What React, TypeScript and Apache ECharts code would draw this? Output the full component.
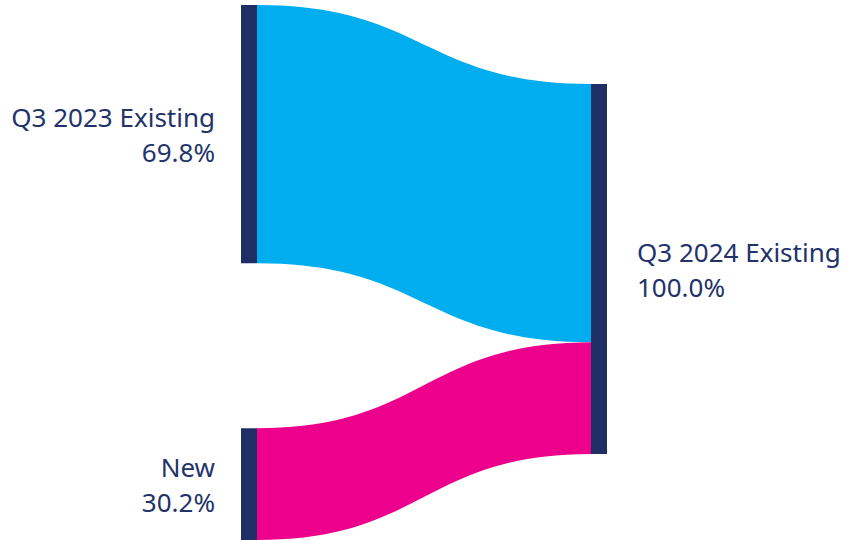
import React, { useEffect, useRef } from "react";
import * as echarts from "echarts";

const nodeNames = ["Q3 2023 Existing", "New", "Q3 2024 Existing"];
const nodeShares = ["69.8%", "30.2%", "100.0%"];
const linkSources = ["Q3 2023 Existing", "New"];
const linkTargets = ["Q3 2024 Existing", "Q3 2024 Existing"];
const linkValues = [69.8, 30.2];
const linkColors = ["#00AEEF", "#EC008C"];

export default function App() {
  const ref = useRef<HTMLDivElement>(null);
  useEffect(() => {
    const chart = echarts.init(ref.current!, null, { renderer: "svg" });
    const textColor = "#22336a";
    chart.setOption({
      animation: false,
      series: [
        {
          type: "sankey",
          left: 241,
          right: 243,
          top: 5,
          bottom: 0,
          nodeWidth: 16,
          nodeGap: 165,
          layoutIterations: 0,
          draggable: false,
          emphasis: { disabled: true },
          itemStyle: { color: "#1f2f66", borderWidth: 0 },
          lineStyle: { opacity: 1, curveness: 0.5 },
          label: {
            color: textColor,
            fontFamily: "Noto Sans",
            fontSize: 26,
            lineHeight: 35,
          },
          data: nodeNames.map((name, i) => ({
            name,
            ...(i === 2 ? { localY: 79 / 535 } : {}),
            label:
              i < 2
                ? { position: "left", distance: 26, align: "right", formatter: () => `${name}\n${nodeShares[i]}` }
                : { position: "right", distance: 30, align: "left", formatter: () => `${name}\n${nodeShares[i]}` },
          })),
          links: linkValues.map((v, i) => ({
            source: linkSources[i],
            target: linkTargets[i],
            value: v,
            lineStyle: { color: linkColors[i], opacity: 1 },
          })),
        },
      ],
    });
    return () => chart.dispose();
  }, []);
  return <div ref={ref} style={{ width: 850, height: 540, position: "absolute", left: 0, top: 0 }} />;
}
